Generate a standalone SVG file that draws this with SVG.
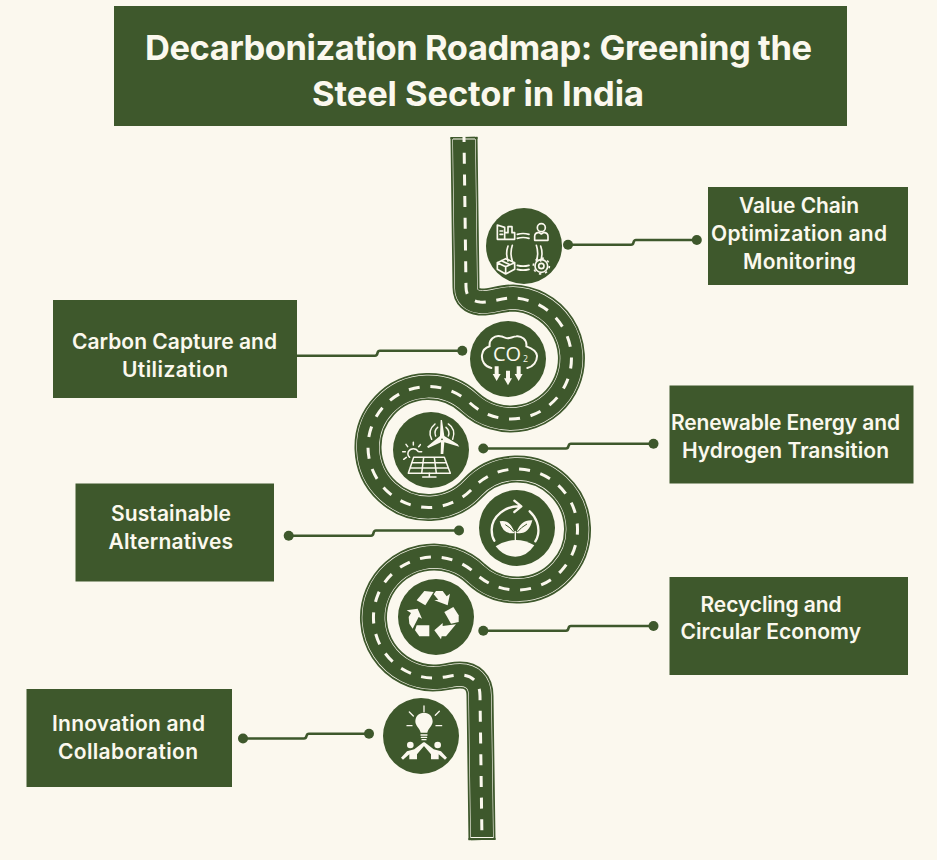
<svg xmlns="http://www.w3.org/2000/svg" xmlns:xlink="http://www.w3.org/1999/xlink" width="937" height="860" viewBox="0 0 937 860">
<style>
.box{fill:#3e582c}
.lbl{font-family:"Inter","Open Sans","Liberation Sans",sans-serif;font-weight:600;font-size:21px;fill:#fbf8ee}
.ttl{font-family:"Inter","Open Sans","Liberation Sans",sans-serif;font-weight:700;font-size:34.5px;fill:#fbf8ee}
.con{fill:none;stroke:#3e582c;stroke-width:2.6;stroke-linejoin:round}
.dot{fill:#3e582c}
.disc{fill:#3e582c}
.ln{fill:none;stroke:#fbf8ee;stroke-width:5;stroke-linecap:round;stroke-linejoin:round}
.fl{fill:#fbf8ee}
.ic{font-family:"Open Sans","Liberation Sans",sans-serif;font-weight:500;fill:#fbf8ee}
</style>
<defs>
<path id="road" d="M464 137 L466 287 C466 297 472 301 480 302 C490 303 500 298 513 298 A60.5 60.5 0 1 1 470 403 A60.5 60.5 0 1 0 473 488 A60.5 60.5 0 1 1 476 574 A60.5 60.5 0 1 0 433 678 C445 678 452 675 460 675 C472 675 480 682 480 696 L482 840" fill="none"/>
</defs>
<rect width="937" height="860" fill="#fbf8ee"/>
<g id="road-graphic">
<use xlink:href="#road" href="#road" stroke="#3e582c" stroke-width="27"/>
<use xlink:href="#road" href="#road" stroke="#fbf8ee" stroke-width="23.4"/>
<use xlink:href="#road" href="#road" stroke="#3e582c" stroke-width="22.2"/>
<rect x="450.500" y="137" width="27" height="2" fill="#3e582c"/>
<rect x="468.500" y="838" width="27" height="2" fill="#3e582c"/>
<path d="M453 139H475M471 837.500H493" stroke="#fbf8ee" stroke-width="1" fill="none"/>
<use xlink:href="#road" href="#road" stroke="#fbf8ee" stroke-width="3" stroke-dasharray="11 10.7" stroke-dashoffset="6"/>
</g>
<g id="connectors">
<path class="con" d="M568 244.8H631Q633 244.8 633.5 242.5Q634 240 636 240H697"/>
<circle class="dot" cx="568" cy="244.8" r="5"/><circle class="dot" cx="696.8" cy="240" r="5"/>
<path class="con" d="M297 355.7H375Q377 355.7 377.5 353Q378 350.7 380 350.7H462"/>
<circle class="dot" cx="462.3" cy="350.7" r="5"/>
<path class="con" d="M483.3 448.5H566Q568 448.5 568.5 446Q569 443.7 571 443.7H653.5"/>
<circle class="dot" cx="483.3" cy="448.5" r="5"/><circle class="dot" cx="653.5" cy="443.7" r="5"/>
<path class="con" d="M288.7 535.7H371Q373 535.7 373.5 533Q374 530.5 376 530.5H459"/>
<circle class="dot" cx="288.7" cy="535.7" r="5"/><circle class="dot" cx="459" cy="530.5" r="5"/>
<path class="con" d="M483.3 630.7H566Q568 630.7 568.5 628.2Q569 626 571 626H653.5"/>
<circle class="dot" cx="483.3" cy="630.7" r="5"/><circle class="dot" cx="653.5" cy="626" r="5"/>
<path class="con" d="M243 738.5H304Q306 738.5 306.5 736Q307 733.7 309 733.7H369"/>
<circle class="dot" cx="243" cy="738.5" r="5"/><circle class="dot" cx="369" cy="733.7" r="5"/>
</g>
<g id="title">
<rect class="box" x="114" y="6" width="733" height="120"/>
<text class="ttl" x="145" y="60" textLength="667">Decarbonization Roadmap: Greening the</text>
<text class="ttl" x="312" y="106" textLength="332">Steel Sector in India</text>
</g>
<g id="value-chain">
<rect class="box" x="708" y="187" width="200" height="98"/>
<text class="lbl" x="739" y="212.7" textLength="120">Value Chain</text>
<text class="lbl" x="711" y="241" textLength="176">Optimization and</text>
<text class="lbl" x="743" y="269" textLength="113">Monitoring</text>
</g>
<g id="carbon-capture">
<rect class="box" x="53" y="300" width="244" height="98"/>
<text class="lbl" x="72" y="349" textLength="205">Carbon Capture and</text>
<text class="lbl" x="122" y="377" textLength="106">Utilization</text>
</g>
<g id="renewable">
<rect class="box" x="669.5" y="385.5" width="244" height="98"/>
<text class="lbl" x="671" y="430" textLength="229">Renewable Energy and</text>
<text class="lbl" x="682" y="457.7" textLength="207">Hydrogen Transition</text>
</g>
<g id="sustainable">
<rect class="box" x="75.5" y="483.5" width="198.5" height="98"/>
<text class="lbl" x="111" y="520.7" textLength="120">Sustainable</text>
<text class="lbl" x="108.5" y="548.7" textLength="124.500">Alternatives</text>
</g>
<g id="recycling">
<rect class="box" x="669.5" y="577" width="238.500" height="98"/>
<text class="lbl" x="700.5" y="611.7" textLength="141">Recycling and</text>
<text class="lbl" x="680.5" y="639.3" textLength="180.500">Circular Economy</text>
</g>
<g id="innovation">
<rect class="box" x="26.500" y="689" width="205.500" height="98"/>
<text class="lbl" x="52" y="731" textLength="153">Innovation and</text>
<text class="lbl" x="58" y="759" textLength="140">Collaboration</text>
</g>
<g id="icon-value-chain">
<circle class="disc" cx="524" cy="246" r="38"/>
<g transform="translate(484 206) scale(.3333)" class="ln" style="stroke-width:5">
<path d="M40 100V57L62 64V100ZM48 75H56M48 85H56M62 100H92V80H84V62H72V80H62"/>
<circle cx="172" cy="65" r="12"/><path d="M152 103V91Q152 81 164 79L172 84L180 79Q192 81 192 91V103Z"/>
<path d="M100 85Q117 80 135 85M100 97Q117 92 135 97M72 120Q64 142 72 165M85 118Q77 142 85 165M157 118Q165 142 157 165M170 120Q178 142 170 165M100 178Q117 183 135 178M100 190Q117 195 135 190"/>
<path d="M40 170L65 158L92 170V190L65 204L40 190ZM40 170L65 182L92 170M65 182V204M52 164L78 176"/>
<circle cx="172" cy="180" r="8"/><circle cx="172" cy="180" r="19"/>
<circle cx="172" cy="180" r="24" stroke-dasharray="7 11.85" stroke-linecap="butt"/>
</g>
</g>
<g id="icon-carbon">
<circle class="disc" cx="508" cy="359" r="38"/>
<g transform="translate(468 319) scale(.3333)">
<path class="ln" style="stroke-width:6" d="M70 147C50 143 40 125 42 108C44 92 55 85 65 82C62 62 80 48 97 52C105 53 112 57 120 58C128 57 135 53 145 52C160 50 178 62 175 82C190 87 205 95 207 110C208 128 195 143 178 147"/>
<text class="ic" x="75" y="125" font-size="60">CO</text>
<text class="ic" x="165" y="129" font-size="26" font-weight="700">2</text>
<path class="fl" d="M80 142H92V165H98L86 186L74 165H80ZM114 155H126V178H132L120 199L108 178H114ZM146 142H158V165H164L152 186L140 165H146Z"/>
</g>
</g>
<g id="icon-renewable">
<circle class="disc" cx="431" cy="450" r="38"/>
<g transform="translate(391 410) scale(.3333)" class="ln" style="stroke-width:4.500">
<path class="fl" d="M147 78L149 30L153 30L160 78L200 103L205 110L160 97L157 132H149L150 97L112 114L108 110Z" stroke="none"/>
<circle cx="153" cy="88" r="5" style="fill:#3e582c"/>
<path d="M122 88Q108 62 132 42M134 78Q128 62 140 52M172 42Q196 58 185 88M165 52Q178 64 172 78"/>
<path d="M82 125A17 17 0 0 0 52 125Q48 135 56 142"/>
<path d="M67 97V105M45 103L50 110M35 125H43M38 148L46 142M88 104L83 110M92 125L85 125"/>
<path d="M68 142H160L178 190H52ZM62 158H166M57 174H172M98 142L92 190M130 142L136 190"/>
<path d="M115 190V200M95 201H135"/>
</g>
</g>
<g id="icon-sustainable">
<circle class="disc" cx="517" cy="528" r="38"/>
<g transform="translate(477 488) scale(.3333)">
<path class="ln" style="stroke-width:7" d="M132 55C85 52 45 85 44 125C44 140 47 150 52 158M158 70C178 88 188 115 183 140C181 150 178 155 175 160M112 38L133 55L112 72"/>
<path class="fl" d="M56 175Q115 138 172 172Q150 206 115 206Q80 206 56 175Z"/>
<path class="fl" d="M68 100Q100 93 113 135Q78 142 68 100ZM166 97Q130 95 118 135Q155 142 166 97Z"/>
<path class="ln" style="stroke-width:4" d="M115 130V158"/>
<path fill="none" stroke="#3e582c" stroke-width="3" d="M85 110Q100 118 110 132M150 108Q132 118 121 132"/>
</g>
</g>
<g id="icon-recycling">
<circle class="disc" cx="436" cy="617" r="38"/>
<g transform="translate(396 577) scale(.3333)" class="fl">
<path d="M62 70L85 42L113 45L88 85Z"/>
<path d="M120 42H140L152 58L162 50L155 85L115 70L127 68L113 52Z"/>
<path d="M145 105L172 90L188 115V135L165 140Z"/>
<path d="M180 142L150 178H137L135 187L115 160L140 138L140 147Z"/>
<path d="M62 145H100V178H70L57 160Z"/>
<path d="M32 100L65 95L78 125L68 120L50 155L40 140L38 120L45 108Z"/>
</g>
</g>
<g id="icon-innovation">
<circle class="disc" cx="421" cy="736" r="38"/>
<g transform="translate(381 696) scale(.3333)">
<path class="fl" d="M129 50C145 50 155 62 155 76C155 90 142 96 139 110H119C116 96 103 90 103 76C103 62 113 50 129 50Z"/>
<path class="ln" style="stroke-width:4" d="M129 30V47M85 48L97 60M175 46L163 58M78 89H93M165 89H182M120 117H138M121 124H137M123 131H135"/>
<circle class="fl" cx="88" cy="147" r="10"/><circle class="fl" cx="170" cy="147" r="10"/>
<path class="fl" d="M60 185L78 166L100 160L128 138L131 148L108 175V190H85V175L66 191Z"/>
<path class="fl" d="M198 185L180 166L158 160L130 138L127 148L150 175V190H173V175L192 191Z"/>
</g>
</g>
</svg>
